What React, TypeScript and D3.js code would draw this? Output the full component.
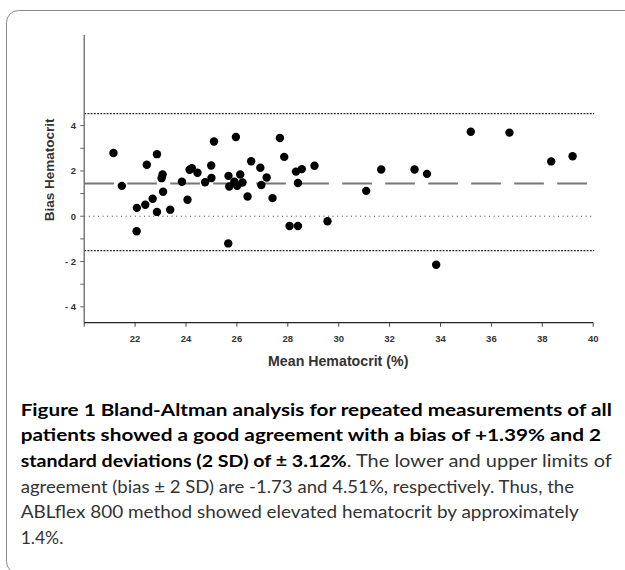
import React from "react";
import * as d3 from "d3";

const meanHct = [
  21.15, 21.48, 22.06, 22.07, 22.4, 22.46, 22.69, 22.86, 22.86, 23.08, 23.04, 23.1, 23.38, 23.84, 24.06,
  24.14, 24.23, 24.45, 24.75, 24.99, 25.1, 25.0, 25.96, 25.67, 25.7, 25.9, 26.01, 26.13, 26.22, 25.66,
  26.42, 26.56, 26.92, 26.96, 27.17, 27.4, 27.69, 27.86, 28.07, 28.4, 28.32, 28.55, 28.4, 29.05, 29.56,
  31.08, 31.67, 32.98, 33.47, 33.83, 35.19, 36.71, 38.35, 39.19,
];
const biasHct = [
  2.79, 1.34, -0.66, 0.37, 0.51, 2.27, 0.77, 2.74, 0.19, 1.84, 1.68, 1.08, 0.29, 1.52, 0.73,
  2.05, 2.12, 1.92, 1.5, 2.24, 3.3, 1.69, 3.5, 1.78, 1.31, 1.52, 1.34, 1.84, 1.49, -1.2,
  0.87, 2.43, 2.14, 1.38, 1.71, 0.8, 3.45, 2.62, -0.43, -0.43, 1.97, 2.08, 1.47, 2.23, -0.22,
  1.12, 2.06, 2.06, 1.87, -2.14, 3.73, 3.69, 2.42, 2.65,
];
const meanBias = 1.44;
const upperLimit = 4.53;
const lowerLimit = -1.52;
const xTicks = [20, 22, 24, 26, 28, 30, 32, 34, 36, 38, 40];
const yTicks = [-4, -3, -2, -1, 0, 1, 2, 3, 4];
const yLabelTicks = [-4, -2, 0, 2, 4];
const xTitle = "Mean Hematocrit (%)";
const yTitle = "Bias Hematocrit";

const captionLines = [
  { parts: [{ t: "Figure 1 Bland-Altman analysis for repeated measurements of all", bold: true, end: 611.8 }] },
  { parts: [{ t: "patients showed a good agreement with a bias of +1.39% and 2", bold: true, end: 601 }] },
  {
    parts: [
      { t: "standard deviations (2 SD) of ± 3.12%", bold: true, end: 346.7 },
      { t: ". The lower and upper limits of", bold: false, end: 611.8 },
    ],
  },
  { parts: [{ t: "agreement (bias ± 2 SD) are -1.73 and 4.51%, respectively. Thus, the", bold: false, end: 574 }] },
  { parts: [{ t: "ABLflex 800 method showed elevated hematocrit by approximately", bold: false, end: 578.7 }] },
  { parts: [{ t: "1.4%.", bold: false, end: null }] },
];

export default function App() {
  const x = d3.scaleLinear().domain([20, 40]).range([84.2, 593.2]);
  const y = d3.scaleLinear().domain([-4.7, 8]).range([322.7, 35]);
  const x0 = x(20);
  const x1 = x(40);
  const axisFont = "'Liberation Sans', Arial, sans-serif";
  const capFont = "Lato, 'Open Sans', sans-serif";

  return (
    <svg
      width={625}
      height={570}
      style={{ position: "absolute", left: 0, top: 0, background: "#fff" }}
    >
      <rect x={6.5} y={10.5} width={700} height={563} rx={12} ry={12} fill="#fff" stroke="#8a8a8a" strokeWidth={1} />

      {/* reference lines */}
      <line x1={x0} x2={x1 + 1} y1={y(upperLimit)} y2={y(upperLimit)} stroke="#333" strokeWidth={1.1} strokeDasharray="2 1.2" />
      <line x1={x0} x2={x1 + 1} y1={y(lowerLimit)} y2={y(lowerLimit)} stroke="#333" strokeWidth={1.1} strokeDasharray="2 1.2" />
      <line x1={x0} x2={x1 + 1} y1={y(0)} y2={y(0)} stroke="#444" strokeWidth={1} strokeDasharray="1 3.6" />
      <line x1={x0} x2={x1} y1={y(meanBias)} y2={y(meanBias)} stroke="#777" strokeWidth={2} strokeDasharray="29.7 13.3" />

      {/* points */}
      {meanHct.map((m, i) => (
        <circle key={i} cx={x(m)} cy={y(biasHct[i])} r={4.2} fill="#000" />
      ))}

      {/* y axis */}
      <line x1={x0} x2={x0} y1={y(8)} y2={y(-4.7)} stroke="#666" strokeWidth={1.3} />
      {yTicks.map((t) => (
        <line key={t} x1={x0 - 4} x2={x0} y1={y(t)} y2={y(t)} stroke="#666" strokeWidth={1} />
      ))}
      {yLabelTicks.map((t) => (
        <text
          key={t}
          x={76}
          y={y(t) + 3.4}
          textAnchor="end"
          fontFamily={axisFont}
          fontWeight="bold"
          fontSize={9.5}
          fill="#333"
        >
          {t < 0 ? `- ${Math.abs(t)}` : `${t}`}
        </text>
      ))}
      <text
        transform={`translate(54,${(y(8) + y(-4.7)) / 2 - 9}) rotate(-90)`}
        textAnchor="middle"
        fontFamily={axisFont}
        fontWeight="bold"
        fontSize={13.5}
        fill="#333"
      >
        {yTitle}
      </text>

      {/* x axis */}
      <line x1={x0} x2={x1} y1={y(-4.7)} y2={y(-4.7)} stroke="#222" strokeWidth={1.3} />
      {xTicks.map((t) => (
        <line key={t} x1={x(t)} x2={x(t)} y1={y(-4.7)} y2={y(-4.7) + 4} stroke="#444" strokeWidth={1} />
      ))}
      {xTicks.filter((t) => t > 20).map((t) => (
        <text
          key={t}
          x={x(t)}
          y={341.5}
          textAnchor="middle"
          fontFamily={axisFont}
          fontWeight="bold"
          fontSize={9.5}
          fill="#333"
        >
          {t}
        </text>
      ))}
      <text
        x={(x0 + x1) / 2 - 0.5}
        y={365.5}
        textAnchor="middle"
        fontFamily={axisFont}
        fontWeight="bold"
        fontSize={14.2}
        fill="#333"
      >
        {xTitle}
      </text>

      {/* caption */}
      {captionLines.map((line, li) => {
        let start = 20.7;
        return (
          <g key={li}>
            {line.parts.map((p, pi) => {
              const s = start;
              if (p.end != null) start = p.end;
              return (
                <text
                  key={pi}
                  x={s}
                  y={415.5 + li * 25.7}
                  fontFamily={capFont}
                  fontWeight={p.bold ? 700 : 400}
                  fontSize={17.5}
                  fill={p.bold ? "#000" : "#333"}
                  textLength={p.end != null ? p.end - s : undefined}
                  lengthAdjust="spacingAndGlyphs"
                >
                  {p.t}
                </text>
              );
            })}
          </g>
        );
      })}
    </svg>
  );
}
